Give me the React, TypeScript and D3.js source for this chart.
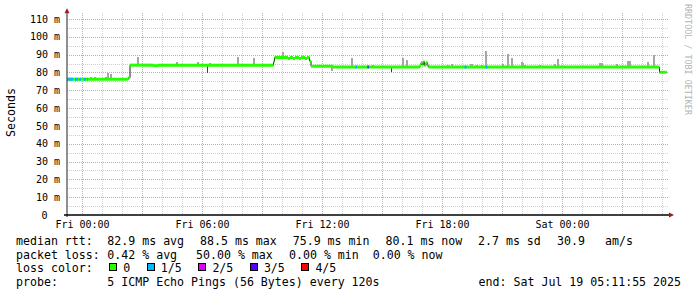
import React from "react";
import * as d3 from "d3";

const WIDTH = 697;
const HEIGHT = 297;

// time axis in hours relative to Fri 2025-07-18 00:00
const START_HOUR = -0.775;
const END_HOUR = 29.225;
const Y_MAX = 113.2;

const xLabelHours = [0, 6, 12, 18, 24];
const xLabels = ["Fri 00:00", "Fri 06:00", "Fri 12:00", "Fri 18:00", "Sat 00:00"];
const yLabelValues = [0, 10, 20, 30, 40, 50, 60, 70, 80, 90, 100, 110];
const yLabels = ["0", "10 m", "20 m", "30 m", "40 m", "50 m", "60 m", "70 m", "80 m", "90 m", "100 m", "110 m"];

// median rtt (ms), step series: value holds from hour[i] to hour[i+1]
const medianHours = [
  -0.775, 2.29, 2.375, 3.525, 3.775, 9.55, 9.6, 10.275, 10.375, 10.525, 10.625, 10.825,
  10.925, 11.125, 11.225, 11.35, 11.425, 12.525, 16.875, 16.925, 16.985, 17.04, 17.1,
  17.175, 17.24, 17.3, 28.85, 29.2,
];
const medianValues = [
  76.2, 77.0, 84.1, 83.8, 84.1, 86.0, 88.4, 87.9, 88.4, 87.9, 88.4, 87.9,
  88.4, 87.9, 88.4, 86.4, 83.5, 83.0, 84.0, 85.5, 84.2, 86.0, 84.0,
  85.6, 84.0, 83.0, 80.1, 80.1,
];

// packet loss periods (hours) and loss level (1..4 of 5)
const lossStart = [-0.775, -0.71, -0.375, -0.16, 0.06, 0.225, 13.65, 14.25, 19.1, 20.15];
const lossEnd = [-0.71, -0.475, -0.225, -0.075, 0.175, 0.275, 13.725, 14.31, 19.2, 20.25];
const lossLevel = [2, 1, 1, 1, 1, 1, 1, 3, 1, 1];

// smoke (spread of the pings)
const smokeHours = [
  0.425, 0.625, 1.16, 1.29, 1.425, 2.76, 4.71, 5.76, 6.375, 6.625, 7.76, 8.575, 10.04,
  12.49, 13.49, 14.54, 16.04, 16.24, 18.29, 18.46, 19.41, 19.46, 19.71, 19.96, 20.16,
  21.04, 21.29, 21.49, 21.96, 22.04, 22.125, 22.875, 23.625, 23.76, 25.875, 25.96,
  26.71, 27.26, 27.375, 28.29, 28.575,
];
const smokeLow = [
  76.2, 76.2, 76.2, 76.2, 76.2, 84.1, 84.1, 84.1, 84.1, 84.1, 84.1, 84.1, 88.4,
  81.0, 83.0, 83.0, 83.0, 83.0, 83.0, 83.0, 83.0, 83.0, 83.0, 83.0, 83.0,
  83.0, 83.0, 83.0, 83.0, 83.0, 83.0, 83.0, 83.0, 83.0, 83.0, 83.0,
  83.0, 83.0, 83.0, 83.0, 83.0,
];
const smokeHigh = [
  77.4, 77.4, 77.6, 79.9, 79.1, 88.6, 85.9, 85.9, 85.3, 85.0, 88.7, 88.1, 91.6,
  83.5, 88.3, 84.2, 88.3, 87.0, 84.2, 84.7, 84.7, 84.7, 84.2, 84.2, 92.0,
  84.7, 90.3, 88.3, 85.7, 85.3, 84.0, 84.2, 85.0, 87.5, 85.3, 85.3,
  84.7, 86.4, 86.4, 85.9, 89.8,
];
const darkSmokeHours = [6.25, 15.46];
const darkSmokeLow = [79.5, 80.4];
const darkSmokeHigh = [84.1, 83.0];

const lossColors = ["#26ff00", "#00b8ff", "#dd00ff", "#5500ff", "#ff0000"];
const lossLabels = ["0", "1/5", "2/5", "3/5", "4/5"];

const rttStats = ["82.9 ms avg", "88.5 ms max", "75.9 ms min", "80.1 ms now", "2.7 ms sd", "30.9", "am/s"];
const rttStatX = [107.3, 200, 292.7, 385.5, 478, 557, 605];
const lossStats = ["0.42 % avg", "50.00 % max", "0.00 % min", "0.00 % now"];
const lossStatX = [107.3, 196, 289, 372.7];
const probeText = "5 ICMP Echo Pings (56 Bytes) every 120s";
const endText = "end: Sat Jul 19 05:11:55 2025";

const MONO = "'DejaVu Sans Mono', monospace";

export default function App() {
  const x = d3.scaleLinear().domain([START_HOUR, END_HOUR]).range([67, 667]);
  const y = d3.scaleLinear().domain([0, Y_MAX]).range([215, 13.3]);

  const minorHours = d3.range(0, 30).filter((h) => h % 3 !== 0);
  const majorHours = d3.range(0, 30, 3);
  const minorVals = d3.range(5, Y_MAX, 10);
  const majorVals = d3.range(10, Y_MAX, 10);

  const medianAt = (h: number) => {
    const i = Math.max(0, d3.bisectRight(medianHours, h) - 1);
    return medianValues[i];
  };

  const stepLine = d3
    .line<number>()
    .x((_, i) => x(medianHours[i]))
    .y((v) => y(v))
    .curve(d3.curveStepAfter);

  const top = y(Y_MAX);
  const bottom = y(0);
  const charW = 6.97;

  let lx = 109;
  const legendItems = lossLabels.map((lab, i) => {
    const sx = lx;
    lx = lx + 14.3 + lab.length * charW + 16.3;
    return { lab, sx, color: lossColors[i] };
  });

  const baselines = [244.5, 258.5, 272.3, 286.3];

  return (
    <svg
      width={WIDTH}
      height={HEIGHT}
      style={{ position: "absolute", left: 0, top: 0, background: "#fff" }}
      fontFamily={MONO}
    >
      <rect x={0} y={0} width={WIDTH} height={HEIGHT} fill="#ffffff" />
      {/* grid */}
      <g shapeRendering="crispEdges" strokeDasharray="1 1">
        {minorHours.map((h) => (
          <line key={"vm" + h} x1={x(h)} x2={x(h)} y1={top} y2={bottom} stroke="#cfcfcf" />
        ))}
        {minorVals.map((v) => (
          <line key={"hm" + v} x1={67} x2={668} y1={y(v) + 0.5} y2={y(v) + 0.5} stroke="#cfcfcf" />
        ))}
        {majorHours.map((h) => (
          <line key={"vM" + h} x1={x(h)} x2={x(h)} y1={top} y2={bottom} stroke="#eb9a9a" />
        ))}
        {majorVals.map((v) => (
          <line key={"hM" + v} x1={67} x2={668} y1={y(v) + 0.5} y2={y(v) + 0.5} stroke="#eb9a9a" />
        ))}
      </g>

      {/* smoke */}
      <g shapeRendering="crispEdges">
        {smokeHours.map((h, i) => (
          <rect
            key={"s" + i}
            x={x(h) - 1}
            width={2}
            y={y(smokeHigh[i])}
            height={y(smokeLow[i]) - y(smokeHigh[i])}
            fill="#a6a6a6"
          />
        ))}
        {darkSmokeHours.map((h, i) => (
          <rect
            key={"d" + i}
            x={x(h) - 0.5}
            width={1}
            y={y(darkSmokeHigh[i])}
            height={y(darkSmokeLow[i]) - y(darkSmokeHigh[i])}
            fill="#404040"
          />
        ))}
      </g>

      {/* median: thin dark step line, then coloured segments */}
      <path d={stepLine(medianValues) || ""} fill="none" stroke="#202020" strokeWidth={1} />
      {medianHours.slice(0, -1).map((h, i) => (
        <line
          key={"m" + i}
          x1={x(h)}
          x2={x(medianHours[i + 1])}
          y1={y(medianValues[i])}
          y2={y(medianValues[i])}
          stroke={lossColors[0]}
          strokeWidth={3}
        />
      ))}
      {lossStart.map((h, i) => (
        <line
          key={"l" + i}
          x1={x(h)}
          x2={x(lossEnd[i])}
          y1={y(medianAt(h))}
          y2={y(medianAt(h))}
          stroke={lossColors[lossLevel[i]]}
          strokeWidth={3}
        />
      ))}

      {/* axes */}
      <line x1={67} x2={67} y1={bottom + 2} y2={top} stroke="#6a6a6a" strokeWidth={1.5} />
      <line x1={64} x2={670} y1={bottom} y2={bottom} stroke="#000" strokeWidth={1.5} />
      <path d={`M64.5,${top}L69.5,${top}L67,${top - 5}Z`} fill="#9b1c1c" />
      <path d={`M669,${bottom - 2.5}L669,${bottom + 2.5}L674,${bottom}Z`} fill="#9b1c1c" />

      {/* tick labels */}
      <g fontSize={10} fill="#000">
        {yLabelValues.map((v, i) => (
          <text key={"yl" + v} x={v === 0 ? 47.5 : 60} y={y(v) + 3.6} textAnchor="end">
            {yLabels[i]}
          </text>
        ))}
        {xLabelHours.map((h, i) => (
          <text key={"xl" + h} x={x(h)} y={228} textAnchor="middle">
            {xLabels[i]}
          </text>
        ))}
      </g>

      <text transform="translate(15,112.5) rotate(-90)" fontSize={11.6} textAnchor="middle" fill="#000">
        Seconds
      </text>
      <text transform="translate(685,4) rotate(90)" fontSize={8.4} fill="#b4b4b4">
        RRDTOOL / TOBI OETIKER
      </text>

      {/* legend */}
      <g fontSize={11.6} fill="#000">
        <text x={16} y={baselines[0]}>median rtt:</text>
        {rttStats.map((s, i) => (
          <text key={"r" + i} x={rttStatX[i]} y={baselines[0]}>
            {s}
          </text>
        ))}
        <text x={16} y={baselines[1]}>packet loss:</text>
        {lossStats.map((s, i) => (
          <text key={"p" + i} x={lossStatX[i]} y={baselines[1]}>
            {s}
          </text>
        ))}
        <text x={16} y={baselines[2]}>loss color:</text>
        {legendItems.map((it, i) => (
          <g key={"li" + i}>
            <rect
              x={it.sx + 0.5}
              y={263.5}
              width={7}
              height={7}
              fill={it.color}
              stroke="#000"
              strokeWidth={1}
              shapeRendering="crispEdges"
            />
            <text x={it.sx + 14.3} y={baselines[2]}>
              {it.lab}
            </text>
          </g>
        ))}
        <text x={16} y={baselines[3]}>probe:</text>
        <text x={107.3} y={baselines[3]}>{probeText}</text>
        <text x={681} y={baselines[3]} textAnchor="end">
          {endText}
        </text>
      </g>
    </svg>
  );
}
